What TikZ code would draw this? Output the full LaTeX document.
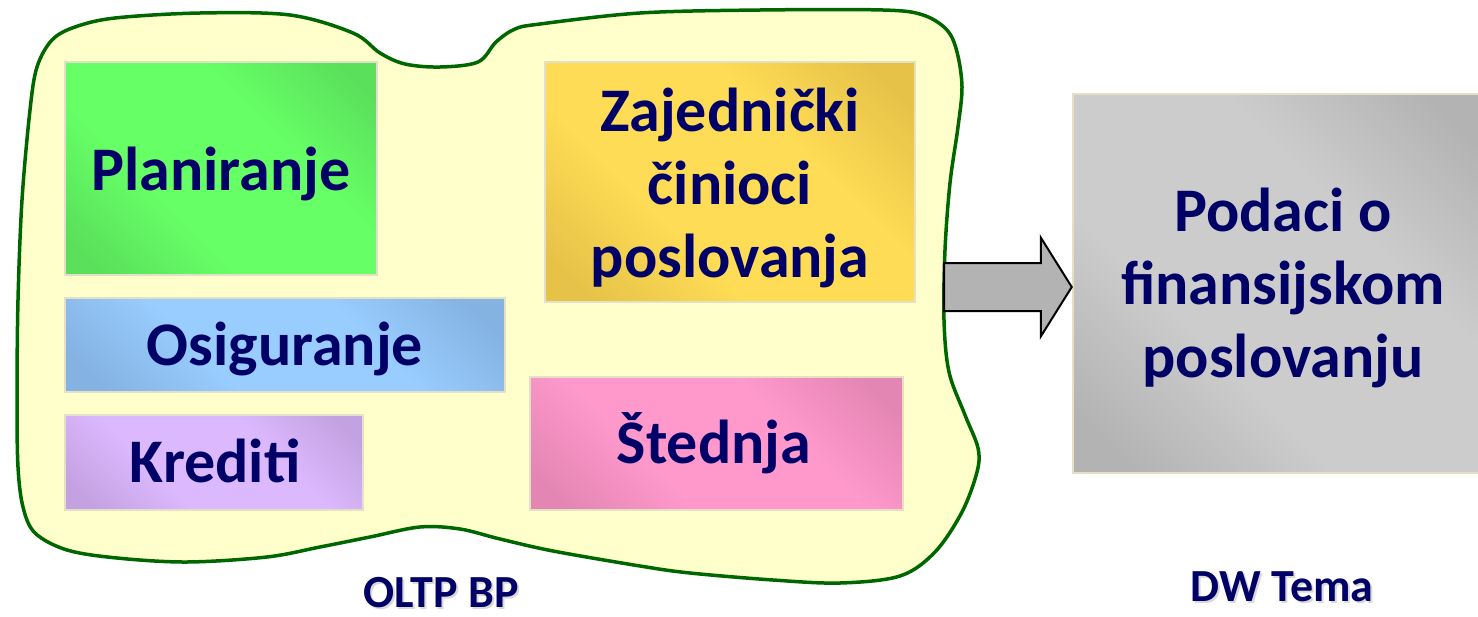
\documentclass[tikz,border=0pt]{standalone}
\usepackage{fontspec}
\setmainfont{Carlito}
\usetikzlibrary{calc}

\definecolor{ink}{HTML}{000066}
\definecolor{blobfill}{HTML}{FFFFCC}
\definecolor{blobline}{HTML}{006600}
\definecolor{tileedge}{HTML}{E4E0C6}
\definecolor{arrowfill}{HTML}{B3B3B3}
\definecolor{greenD}{HTML}{5BE05B}   \definecolor{greenL}{HTML}{66FF66}
\definecolor{goldD}{HTML}{E6C248}    \definecolor{goldL}{HTML}{FFDC55}
\definecolor{blueD}{HTML}{84B3E2}    \definecolor{blueL}{HTML}{99CCFF}
\definecolor{lilacD}{HTML}{C4A1E0}   \definecolor{lilacL}{HTML}{DCB9FF}
\definecolor{pinkD}{HTML}{E386B3}    \definecolor{pinkL}{HTML}{FF99CC}
\definecolor{greyD}{HTML}{B3B3B3}    \definecolor{greyL}{HTML}{CCCCCC}
\colorlet{boxdark}{gray}
\colorlet{boxlight}{white}

% diagonal glow: darker towards two opposite corners, wide light band in between
\pgfdeclareverticalshading[boxdark,boxlight]{boxglow}{100bp}{%
  color(0bp)=(boxdark); color(20bp)=(boxdark); color(38bp)=(boxlight);
  color(62bp)=(boxlight); color(80bp)=(boxdark); color(100bp)=(boxdark)}

\tikzset{
  tile/.style 2 args={draw=tileedge, line width=2.5pt, inner sep=0pt,
    /utils/exec={\colorlet{boxdark}{#1}\colorlet{boxlight}{#2}},
    shade, shading=boxglow, shading angle=-45},
  txt/.style={text=ink, font=\bfseries\fontsize{62}{73}\selectfont,
    align=center, inner sep=0pt, anchor=base},
  caption/.style={text=ink, font=\bfseries\fontsize{46}{54}\selectfont,
    inner sep=0pt, text depth=0pt, anchor=base},
  captionshadow/.style={caption, text=black, opacity=0.15},
  blob/.style={fill=blobfill, draw=blobline, line width=3.5pt},
  blockarrow/.style={fill=arrowfill, draw=black, line width=2pt, line join=miter},
}

\begin{document}
\begin{tikzpicture}[x=1pt, y=-1pt]
  \fill[white] (0,0) rectangle (1478,616);
  \useasboundingbox (0,0) rectangle (1478,616);

  % outline of the transactional database
  \draw[blob] plot[smooth cycle, tension=0.55] coordinates {
    (22,200) (30,110) (37,67) (52,40) (75,27) (115,18) (200,13) (290,15)
    (353,33) (380,53) (405,64) (440,67) (478,62) (496,42) (515,29) (540,24)
    (640,13) (760,10) (883,10) (923,15) (947,30) (957,52) (962,87)
    (958,127) (950,183) (945,250) (944,320) (949,372) (965,415) (978,448)
    (977,472) (962,512) (935,552) (900,576) (840,583) (773,580) (690,573)
    (640,566) (553,551) (500,539) (460,529) (420,527) (370,537) (320,547)
    (267,557) (187,562) (117,558) (67,550) (35,533) (23,507) (18,467)
    (17,400) (18,300)};

  % subsystem tiles
  \node[tile={greenD}{greenL}, minimum width=312pt, minimum height=213pt]
    (plan) at (221,168.5) {};
  \node[tile={goldD}{goldL}, minimum width=370pt, minimum height=240pt]
    (zaj) at (730,182) {};
  \node[tile={blueD}{blueL}, minimum width=440pt, minimum height=94pt]
    (osig) at (285,345) {};
  \node[tile={lilacD}{lilacL}, minimum width=298pt, minimum height=95pt]
    (kred) at (214,462.5) {};
  \node[tile={pinkD}{pinkL}, minimum width=373pt, minimum height=133pt]
    (sted) at (716.5,443.5) {};
  \node[tile={greyD}{greyL}, minimum width=417pt, minimum height=379pt]
    (dw) at (1281.5,283.5) {};

  % tile texts (base anchor of a multi-line text is its last line)
  \node[txt] (planT) at (221,190) {Planiranje};
  \node[txt] (zajT) at (730,277) {Zajednički\\činioci\\poslovanja};
  \node[txt] (osigT) at (285,365) {Osiguranje};
  \node[txt] (kredT) at (215,482) {Krediti};
  \node[txt] (stedT) at (714,463) {Štednja};
  \node[txt] (dwT) at (1283,377) {Podaci o\\finansijskom\\poslovanju};

  % block arrow from the database outline to the warehouse topic
  \coordinate (tail) at (944,287);
  \coordinate (tip) at (dw.west);
  \draw[blockarrow]
    ($(tail)+(0,-24)$) -- ($(tip |- tail)+(-31,-24)$) -- ($(tip |- tail)+(-31,-49.5)$)
    -- (tip |- tail) -- ($(tip |- tail)+(-31,49.5)$) -- ($(tip |- tail)+(-31,24)$)
    -- ($(tail)+(0,24)$) -- cycle;

  % captions
  \node[captionshadow] at (443,609) {OLTP BP};
  \node[caption] (oltp) at (441,607) {OLTP BP};
  \node[captionshadow] at (1284,603) {DW Tema};
  \node[caption] (dwcap) at (1282,601) {DW Tema};
\end{tikzpicture}
\end{document}
